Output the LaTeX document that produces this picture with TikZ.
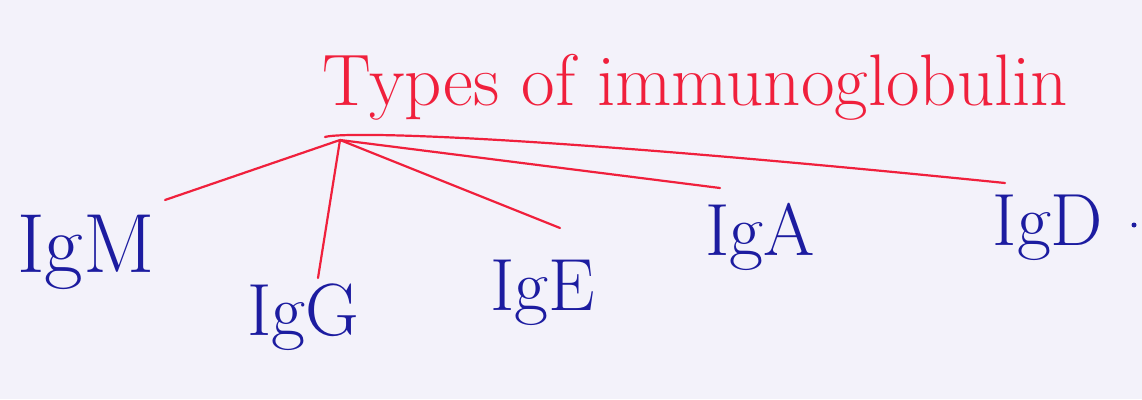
\documentclass[tikz,border=0pt]{standalone}
\usepackage{fontspec}
\definecolor{paper}{HTML}{F3F2FA}
\definecolor{ink}{HTML}{F0203C}
\definecolor{pen}{HTML}{1C1CA0}
\begin{document}
\begin{tikzpicture}[x=1pt,y=-1pt,
  title/.style={text=ink,font=\fontsize{73}{75}\selectfont,inner sep=0pt,anchor=base west},
  label/.style={text=pen,font=\fontsize{74}{76}\selectfont,inner sep=0pt,anchor=base},
  link/.style={draw=ink,line width=2.2pt,line cap=round}]
\fill[paper] (0,0) rectangle (1142,399);
\useasboundingbox (0,0) rectangle (1142,399);
\node[title] (t) at (322,105) {Types of immunoglobulin};
\coordinate (hub) at (340,140);
\node[label,font=\fontsize{84}{86}\selectfont] (igm) at (86,272) {IgM};
\node[label] (igg) at (303,335) {IgG};
\node[label] (ige) at (543,310) {IgE};
\node[label] (iga) at (760,255) {IgA};
\node[label] (igd) at (1048,245) {IgD};
\node[circle,fill=pen,inner sep=0pt,minimum size=5pt] (dot) at (1134,225) {};
\coordinate (em) at (165,200);
\coordinate (eg) at (318,278);
\coordinate (ee) at (560,228);
\coordinate (ea) at (720,188);
\coordinate (ed) at (1005,183);
\draw[link] (hub) -- (em);
\draw[link] (hub) -- (eg);
\draw[link] (hub) -- (ee);
\draw[link] (hub) -- (ea);
\draw[link] (325,137) .. controls (340,132) and (500,132) .. (ed);
\end{tikzpicture}
\end{document}
